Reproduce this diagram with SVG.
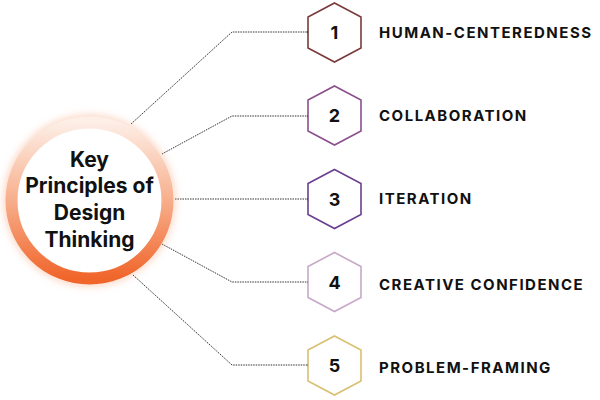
<svg xmlns="http://www.w3.org/2000/svg" width="600" height="400" viewBox="0 0 600 400">
<defs>
<linearGradient id="ring" x1="0" y1="0" x2="0" y2="1">
<stop offset="0" stop-color="#fdeee6"/>
<stop offset="0.45" stop-color="#f8b595"/>
<stop offset="1" stop-color="#f0652a"/>
</linearGradient>
<filter id="glow" x="-30%" y="-30%" width="160%" height="160%">
<feGaussianBlur stdDeviation="3"/>
</filter>
<marker id="dot" viewBox="0 0 4 4" refX="2" refY="2" markerWidth="3" markerHeight="3" markerUnits="userSpaceOnUse">
<circle cx="2" cy="2" r="2" fill="#222"/>
</marker>
<polygon id="hex" points="0,-29.5 26.5,-15.5 26.5,15.5 0,29.5 -26.5,15.5 -26.5,-15.5"/>
</defs>
<style>
.conn{fill:none;stroke:#333;stroke-width:1;stroke-dasharray:1.5 1;}
.hex{fill:#fff;stroke-width:1.6;}
.num{font-family:Inter,"Liberation Sans",sans-serif;font-weight:700;font-size:18px;fill:#111;text-anchor:middle;}
.lbl{font-family:Inter,"Liberation Sans",sans-serif;font-weight:700;font-size:15px;letter-spacing:1.5px;fill:#111;}
.title{font-family:Inter,"Liberation Sans",sans-serif;font-weight:700;font-size:21px;fill:#111;text-anchor:middle;}
</style>
<rect width="600" height="400" fill="#fff"/>
<g id="connectors">
<polyline class="conn" points="131,124 232,32 308,32" marker-end="url(#dot)"/>
<polyline class="conn" points="162,154 232,116 308,116" marker-end="url(#dot)"/>
<polyline class="conn" points="175,199 308,199" marker-end="url(#dot)"/>
<polyline class="conn" points="162,244 232,282 308,282" marker-end="url(#dot)"/>
<polyline class="conn" points="133,275 232,365 308,365" marker-end="url(#dot)"/>
</g>
<g id="center">
<circle cx="89.5" cy="200.5" r="80" fill="none" stroke="#f7a27a" stroke-opacity="0.35" stroke-width="14" filter="url(#glow)"/>
<circle cx="89.5" cy="200.5" r="72" fill="#fff"/>
<circle cx="89.5" cy="200.5" r="78" fill="none" stroke="url(#ring)" stroke-width="12"/>
<text class="title" x="89.5" y="167">Key</text>
<text class="title" x="89.5" y="193">Principles of</text>
<text class="title" x="89.5" y="220">Design</text>
<text class="title" x="89.5" y="247">Thinking</text>
</g>
<g id="p1">
<use href="#hex" x="334.5" y="32.5" class="hex" stroke="#7b3a3a"/>
<text class="num" x="334.5" y="39">1</text>
<text class="lbl" x="379" y="37.5">HUMAN-CENTEREDNESS</text>
</g>
<g id="p2">
<use href="#hex" x="334.5" y="115.5" class="hex" stroke="#8b4f8b"/>
<text class="num" x="334.5" y="122">2</text>
<text class="lbl" x="379" y="120.5">COLLABORATION</text>
</g>
<g id="p3">
<use href="#hex" x="334.5" y="199" class="hex" stroke="#6b3f8f"/>
<text class="num" x="334.5" y="205.5">3</text>
<text class="lbl" x="379" y="203.5">ITERATION</text>
</g>
<g id="p4">
<use href="#hex" x="334.5" y="282" class="hex" stroke="#c8a8c8"/>
<text class="num" x="334.5" y="288.5">4</text>
<text class="lbl" x="379" y="289.5">CREATIVE CONFIDENCE</text>
</g>
<g id="p5">
<use href="#hex" x="334.5" y="365.5" class="hex" stroke="#d9c070"/>
<text class="num" x="334.5" y="372">5</text>
<text class="lbl" x="379" y="372.5">PROBLEM-FRAMING</text>
</g>
</svg>
